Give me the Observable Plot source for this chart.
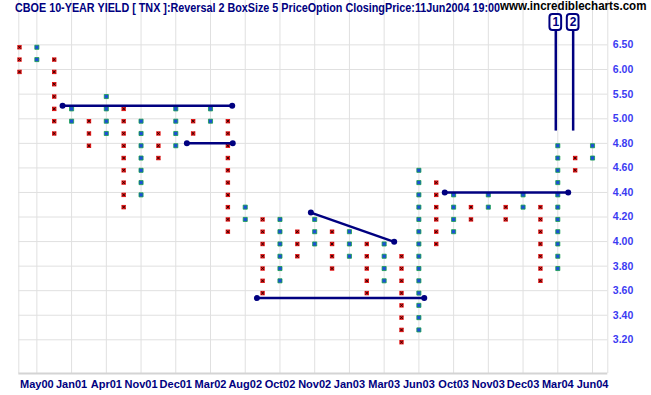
<!DOCTYPE html>
<html><head><meta charset="utf-8">
<script src="https://cdn.jsdelivr.net/npm/d3@7"></script>
<script src="https://cdn.jsdelivr.net/npm/@observablehq/plot@0.6"></script>
<style>
body{margin:0;background:#fff;}
#wrap{position:relative;width:651px;height:395px;overflow:hidden;}
#wrap svg{position:absolute;left:0;top:0;}
.t{position:absolute;white-space:nowrap;font-family:"Liberation Sans",Arial,sans-serif;font-weight:bold;font-size:12px;line-height:12px;transform-origin:0 0;}
</style></head><body>
<div id="wrap"></div>
<script>
// ---- text ----
const titleText = "CBOE 10-YEAR YIELD [ TNX ]:Reversal 2 BoxSize 5 PriceOption ClosingPrice:11Jun2004 19:00";
const siteText = "www.incrediblecharts.com";

// ---- point & figure columns (X = red, O = blue), box prices ----
const columnKinds = ["X","O","X","O","X","O","X","O","X","O","X","O","X","O","X","O","X",
                     "O","X","O","X","O","X","O","X","O","X","O","X","O","X","O","X","O"];
const columnBoxes = [
  [6.5, 6.25, 6.0],
  [6.5, 6.25],
  [6.25, 6.0, 5.75, 5.5, 5.25, 5.0, 4.9],
  [5.25, 5.0],
  [5.0, 4.9, 4.8],
  [5.5, 5.25, 5.0, 4.9],
  [5.25, 5.0, 4.9, 4.8, 4.7, 4.6, 4.5, 4.4, 4.3],
  [5.0, 4.9, 4.8, 4.7, 4.6, 4.5, 4.4],
  [4.9, 4.8, 4.7],
  [5.25, 5.0, 4.9, 4.8],
  [5.0, 4.9],
  [5.25, 5.0],
  [5.0, 4.9, 4.8, 4.7, 4.6, 4.5, 4.4, 4.3, 4.2, 4.1],
  [4.3, 4.2],
  [4.2, 4.1, 4.0, 3.9, 3.8, 3.7, 3.6],
  [4.2, 4.1, 4.0, 3.9, 3.8, 3.7],
  [4.1, 4.0, 3.9],
  [4.2, 4.1, 4.0],
  [4.1, 4.0, 3.9, 3.8],
  [4.1, 4.0, 3.9],
  [4.0, 3.9, 3.8, 3.7, 3.6],
  [4.0, 3.9, 3.8, 3.7],
  [3.9, 3.8, 3.7, 3.6, 3.5, 3.4, 3.3, 3.2],
  [4.6, 4.5, 4.4, 4.3, 4.2, 4.1, 4.0, 3.9, 3.8, 3.7, 3.6, 3.5, 3.4, 3.3],
  [4.5, 4.4, 4.3, 4.2, 4.1, 4.0],
  [4.4, 4.3, 4.2, 4.1],
  [4.3, 4.2],
  [4.4, 4.3],
  [4.3, 4.2],
  [4.4, 4.3],
  [4.3, 4.2, 4.1, 4.0, 3.9, 3.8, 3.7],
  [4.8, 4.7, 4.6, 4.5, 4.4, 4.3, 4.2, 4.1, 4.0, 3.9, 3.8],
  [4.7, 4.6],
  [4.8, 4.7]
];

// ---- axis labels ----
const labelColumns = [1, 3, 5, 7, 9, 11, 13, 15, 17, 19, 21, 23, 25, 27, 29, 31, 33];
const dateLabels = ["May00","Jan01","Apr01","Nov01","Dec01","Mar02","Aug02","Oct02","Nov02",
                    "Jan03","Mar03","Jun03","Oct03","Nov03","Dec03","Mar04","Jun04"];
const priceTicks = [3.2, 3.4, 3.6, 3.8, 4.0, 4.2, 4.4, 4.6, 4.8, 5.0, 5.5, 6.0, 6.5];

// ---- trend lines (column, price) ----
const trendStartCol = [2.48, 9.64, 16.78, 13.67, 24.49];
const trendStartPrice = [5.266, 4.80, 4.236, 3.54, 4.40];
const trendEndCol = [12.25, 12.28, 21.58, 23.31, 31.60];
const trendEndPrice = [5.266, 4.80, 3.998, 3.54, 4.40];

// ---- signals ----
const signalColumns = [31, 32];
const signalLabels = ["1", "2"];
const signalPrices = [4.9, 4.9];

// ---- build tables ----
const boxes = columnBoxes.flatMap((list, c) => list.map(p => ({column: c, price: p, kind: columnKinds[c]})));
const xBoxes = boxes.filter(d => d.kind === "X");
const oBoxes = boxes.filter(d => d.kind === "O");
const trends = trendStartCol.map((c, i) => ({c1: c, p1: trendStartPrice[i], c2: trendEndCol[i], p2: trendEndPrice[i]}));
const trendEnds = trends.flatMap(t => [{column: t.c1, price: t.p1}, {column: t.c2, price: t.p2}]);
const signals = signalColumns.map((c, i) => ({column: c, label: signalLabels[i], price: signalPrices[i]}));

// scale layout (piecewise price axis: finer below 5.00)
const xDomain = [-0.04, 33.88];
const yDomain = [2.9255, 5.0, 7.4];
const yRange = [373, 118.3, 0];
const signalBoxBottom = 6.79, signalBoxTop = 7.114, signalLabelY = 6.952;

const navy = "#000080";
const grid = "#e0e0e0";

const chart = Plot.plot({
  width: 651,
  height: 395,
  marginLeft: 18.3,
  marginRight: 43.7,
  marginTop: 0,
  marginBottom: 22,
  style: {fontFamily: "'Liberation Sans', Arial, sans-serif", background: "#fff"},
  x: {type: "linear", domain: xDomain},
  y: {type: "linear", domain: yDomain, range: yRange},
  marks: [
    Plot.ruleY(priceTicks, {stroke: grid, strokeWidth: 1}),
    Plot.ruleX(labelColumns, {stroke: grid, strokeWidth: 1}),
    Plot.ruleX(xDomain, {stroke: grid, strokeWidth: 1}),
    Plot.ruleY([yDomain[0]], {stroke: "#d4d4d4", strokeWidth: 2}),
    Plot.axisX(labelColumns, {anchor: "bottom", tickFormat: d => dateLabels[labelColumns.indexOf(d)],
      tickSize: 0, tickPadding: 7, color: navy, fontSize: 11, fontWeight: "bold", label: null}),
    Plot.axisY(priceTicks, {anchor: "right", tickFormat: d3.format(".2f"),
      tickSize: 0, tickPadding: 5, color: "#3b3bf2", fontSize: 10.5, fontWeight: "bold", label: null}),
    // boxes
    Plot.dot(xBoxes, {x: "column", y: "price", symbol: "square", r: 2.5, fill: "#e41a1a", dy: 2.4}),
    Plot.dot(xBoxes, {x: "column", y: "price", symbol: "times", r: 1.3, stroke: "#2a0000", strokeWidth: 1, dy: 2.4}),
    Plot.dot(oBoxes, {x: "column", y: "price", symbol: "square", r: 2.3, fill: "#1d4fd8", stroke: "#14a048", strokeWidth: 0.8, dy: 2.4}),
    // trend lines
    Plot.link(trends, {x1: "c1", y1: "p1", x2: "c2", y2: "p2", stroke: navy, strokeWidth: 2.5}),
    Plot.dot(trendEnds, {x: "column", y: "price", r: 3, fill: navy}),
    // signals
    Plot.ruleX(signals, {x: "column", y1: "price", y2: signalBoxBottom, stroke: navy, strokeWidth: 2.5, dx: -2}),
    Plot.rect(signals, {x1: d => d.column - 0.337, x2: d => d.column + 0.337, y1: signalBoxBottom, y2: signalBoxTop,
      rx: 3, fill: "white", stroke: navy, strokeWidth: 2, dx: -2}),
    Plot.text(signals, {x: "column", y: signalLabelY, text: "label", dx: -2, fill: navy, fontWeight: "bold", fontSize: 12})
  ]
});

const wrap = document.getElementById("wrap");
wrap.appendChild(chart);

function addText(txt, left, top, width, color) {
  const s = document.createElement("span");
  s.className = "t";
  s.textContent = txt;
  s.style.left = left + "px";
  s.style.top = top + "px";
  s.style.color = color;
  wrap.appendChild(s);
  const w = s.getBoundingClientRect().width;
  s.style.transform = "scaleX(" + (width / w) + ")";
}
addText(titleText, 15, 1.5, 485, navy);
addText(siteText, 500, 0, 146.5, "#000");
</script>
</body></html>
